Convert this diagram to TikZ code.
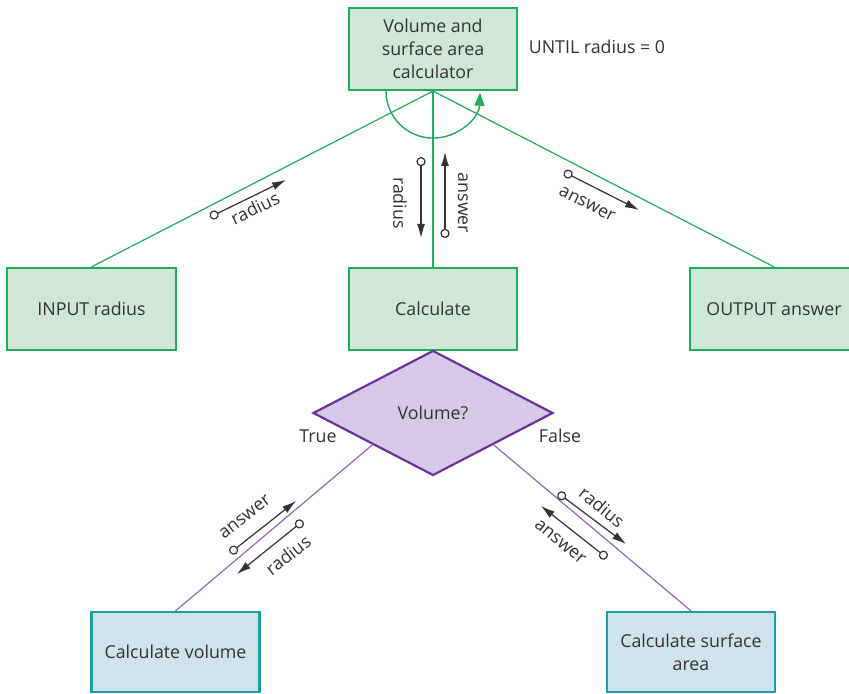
\documentclass[tikz,border=0pt]{standalone}
\usepackage{fontspec}
\setmainfont{Open Sans}
\usepackage{tikz}
\usetikzlibrary{shapes.geometric, arrows.meta}

\definecolor{boxgreen}{HTML}{1FAE5A}
\definecolor{fillgreen}{HTML}{CFE7D5}
\definecolor{boxpurple}{HTML}{7030A0}
\definecolor{fillpurple}{HTML}{D5C9E5}
\definecolor{linepurple}{HTML}{9466BC}
\definecolor{boxblue}{HTML}{1A9FB0}
\definecolor{fillblue}{HTML}{CDE4EB}
\definecolor{inkgray}{HTML}{333333}

\tikzset{
    module/.style={rectangle, draw=boxgreen, fill=fillgreen, line width=1.1pt, minimum width=84pt, minimum height=41pt, align=center, text=inkgray},
    submodule/.style={rectangle, draw=boxblue, fill=fillblue, line width=1.1pt, minimum width=84pt, minimum height=40pt, align=center, text=inkgray},
    choice/.style={diamond, draw=boxpurple, fill=fillpurple, line width=1.1pt, minimum width=120pt, minimum height=62.5pt, inner sep=0pt, text=inkgray},
    couple/.style={draw=inkgray, line width=0.6pt, {Circle[open, length=4.6pt]}-{Latex[length=7pt, width=4pt]}},
    lbl/.style={text=inkgray, inner sep=0pt}
}

\begin{document}
\begin{tikzpicture}[x=0.5pt, y=0.5pt, font=\fontsize{8.9}{11.5}\selectfont]
            \useasboundingbox (0,0) rectangle (849,694);

            % Nodes
            \node[module] (calc-top) at (433, 645) {Volume and\\surface area\\calculator};
            \node[lbl] (until) at (597, 647) {UNTIL radius = 0};
            \node[module, minimum width=84.5pt] (input) at (91.5, 385) {INPUT radius};
            \node[module] (calc) at (433, 385) {Calculate};
            \node[module] (output) at (774, 385) {OUTPUT answer};
            \node[choice] (volq) at (433, 281) {Volume?};
            \node[lbl] (true) at (318, 258) {True};
            \node[lbl] (false) at (560, 258) {False};
            \node[submodule] (calc-vol) at (175.5, 42) {Calculate volume};
            \node[submodule] (calc-area) at (691, 42) {Calculate surface\\area};

            % Lines
            \draw[boxgreen, line width=0.6pt] (calc-top.south) -- (input.north);
            \draw[boxgreen, line width=0.6pt] (calc-top.south) -- (calc.north);
            \draw[boxgreen, line width=0.6pt] (calc-top.south) -- (output.north);
            \draw[linepurple, line width=0.6pt] (volq.south west) -- (calc-vol.north);
            \draw[linepurple, line width=0.6pt] (volq.south east) -- (calc-area.north);

            % Loop
            \draw[boxgreen, line width=0.7pt, -{Triangle[length=6.5pt, width=5pt]}] ([xshift=-47*0.5pt]calc-top.south) arc[start angle=180, end angle=358, radius=47];

            % Couples
            \coordinate (c1a) at (210, 477);
            \coordinate (c1b) at (286, 514);
            \coordinate (c2a) at (421, 537);
            \coordinate (c2b) at (421, 456);
            \coordinate (c3a) at (445, 456);
            \coordinate (c3b) at (445, 542);
            \coordinate (c4a) at (564, 522);
            \coordinate (c4b) at (639, 484);
            \coordinate (c5a) at (230, 141);
            \coordinate (c5b) at (296, 193);
            \coordinate (c6a) at (303, 173);
            \coordinate (c6b) at (237, 120);
            \coordinate (c7a) at (558, 201);
            \coordinate (c7b) at (626, 150);
            \coordinate (c8a) at (607, 136);
            \coordinate (c8b) at (541, 188);
            \draw[couple] (c1a) -- (c1b);
            \draw[couple] (c2a) -- (c2b);
            \draw[couple] (c3a) -- (c3b);
            \draw[couple] (c4a) -- (c4b);
            \draw[couple] (c5a) -- (c5b);
            \draw[couple] (c6a) -- (c6b);
            \draw[couple] (c7a) -- (c7b);
            \draw[couple] (c8a) -- (c8b);

            \node[lbl, rotate=26] (l1) at (255, 486) {radius};
            \node[lbl, rotate=-90] (l2) at (400, 491) {radius};
            \node[lbl, rotate=-90] (l3) at (463, 491) {answer};
            \node[lbl, rotate=-27] (l4) at (587, 490) {answer};
            \node[lbl, rotate=38] (l5) at (245, 177) {answer};
            \node[lbl, rotate=38] (l6) at (288, 139) {radius};
            \node[lbl, rotate=-39] (l7) at (602, 187) {radius};
            \node[lbl, rotate=-39] (l8) at (560, 152) {answer};
        \end{tikzpicture}
\end{document}
